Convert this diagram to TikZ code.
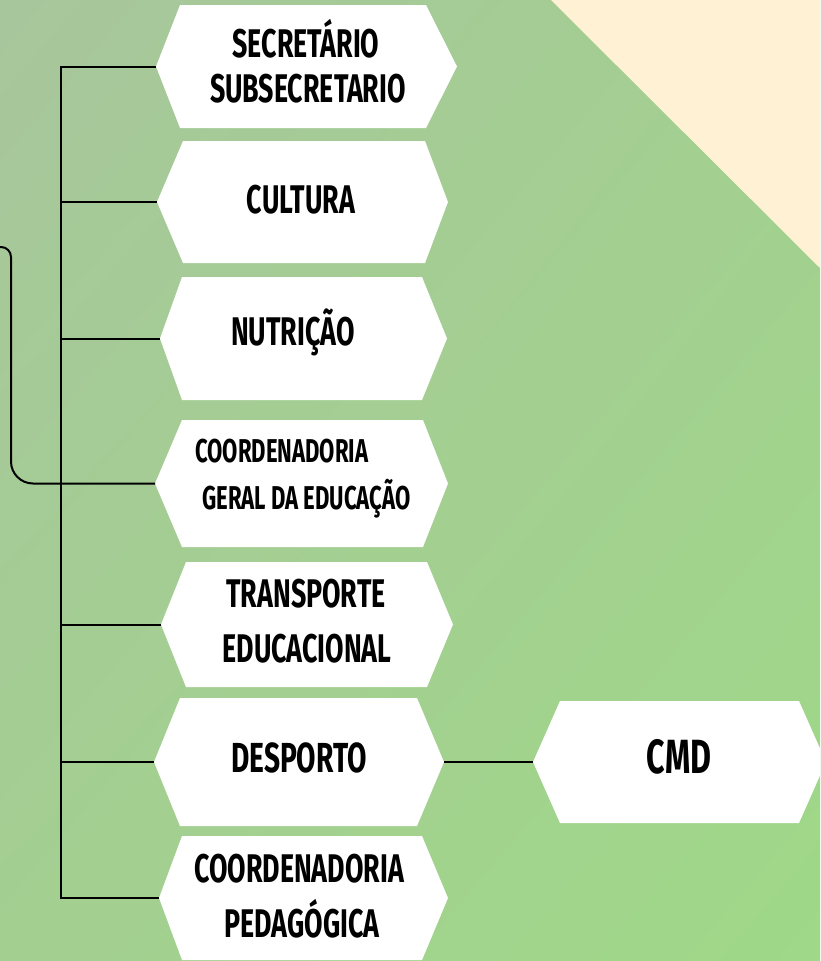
\documentclass[tikz,border=0pt]{standalone}
\usepackage{fontspec}
\usetikzlibrary{shadings}
\newfontfamily\bebas[FakeStretch=0.67]{Fira Sans}
\definecolor{bgA}{HTML}{A8C69C}
\definecolor{bgB}{HTML}{9FD888}
\definecolor{bgM}{HTML}{A3CF91}
\definecolor{cream}{HTML}{FFF2D4}
\tikzset{
  hexbox/.style={fill=white, draw=none},
  conn/.style={draw=black, line width=2pt},
  lbl/.style={font=\bebas\bfseries\fontsize{40}{40}\selectfont, inner sep=0pt, anchor=base, text=black},
}
% #1 name, #2 left tip x, #3 left corner x, #4 right corner x, #5 right tip x, #6 top y, #7 bottom y
\newcommand\hexa[7]{%
  \fill[hexbox] (#2,{(#6+#7)/2}) -- (#3,#6) -- (#4,#6) -- (#5,{(#6+#7)/2}) -- (#4,#7) -- (#3,#7) -- cycle;
  \coordinate (#1w) at (#2,{(#6+#7)/2});
  \coordinate (#1e) at (#5,{(#6+#7)/2});
}
\begin{document}
\begin{tikzpicture}[x=1pt,y=-1pt]
\useasboundingbox (0,0) rectangle (820,961);
\clip (0,0) rectangle (820,961);
\shade[upper left=bgA, lower right=bgB, upper right=bgM, lower left=bgM] (0,0) rectangle (820,961);
\fill[cream] (551,0) -- (820,0) -- (820,268) -- cycle;

\hexa{h1}{156}{180}{426}{457}{5}{128}
\hexa{h2}{157}{183}{425}{448}{141}{263}
\hexa{h3}{160}{182}{422}{447}{277}{400}
\hexa{h4}{155}{182}{423}{448}{420}{547}
\hexa{h5}{161}{186}{427}{453}{562}{687}
\hexa{h6}{154}{180}{417}{444}{698}{826}
\hexa{h7}{159}{182}{422}{448}{836}{960}
\hexa{h8}{533}{560}{799}{826}{701}{823}

\coordinate (trtop) at (61,66.5);
\coordinate (trbot) at (61,898);
\coordinate (brk) at (-5,247);
\draw[conn] (h1w) -- (trtop) -- (trbot) -- (h7w);
\draw[conn] (61,202) -- (h2w);
\draw[conn] (61,338.5) -- (h3w);
\draw[conn] (61,624.5) -- (h5w);
\draw[conn] (61,762) -- (h6w);
\draw[conn] (brk) [rounded corners=10pt] -- (11,247) [rounded corners=22pt] -- (11,483.5) -- (h4w);
\draw[conn] (h6e) -- (h8w);

\node[lbl] (t1a) at (306,57) {SECRETÁRIO};
\node[lbl] (t1b) at (308,102) {SUBSECRETARIO};
\node[lbl] (t2) at (301,213) {CULTURA};
\node[lbl] (t3) at (293,345) {NUTRIÇÃO};
\node[lbl, anchor=base west, font=\bebas\bfseries\fontsize{33}{33}\selectfont] (t4a) at (195,462) {COORDENADORIA};
\node[lbl, anchor=base west, font=\bebas\bfseries\fontsize{33}{33}\selectfont] (t4b) at (202,509) {GERAL DA EDUCAÇÃO};
\node[lbl] (t5a) at (306,607) {TRANSPORTE};
\node[lbl] (t5b) at (307,662) {EDUCACIONAL};
\node[lbl, font=\bebas\bfseries\fontsize{42}{42}\selectfont] (t6) at (299,772) {DESPORTO};
\node[lbl] (t7a) at (299,882) {COORDENADORIA};
\node[lbl] (t7b) at (302,937) {PEDAGÓGICA};
\node[lbl, font=\bebas\bfseries\fontsize{48}{48}\selectfont] (t8) at (679,773) {CMD};
\end{tikzpicture}
\end{document}
